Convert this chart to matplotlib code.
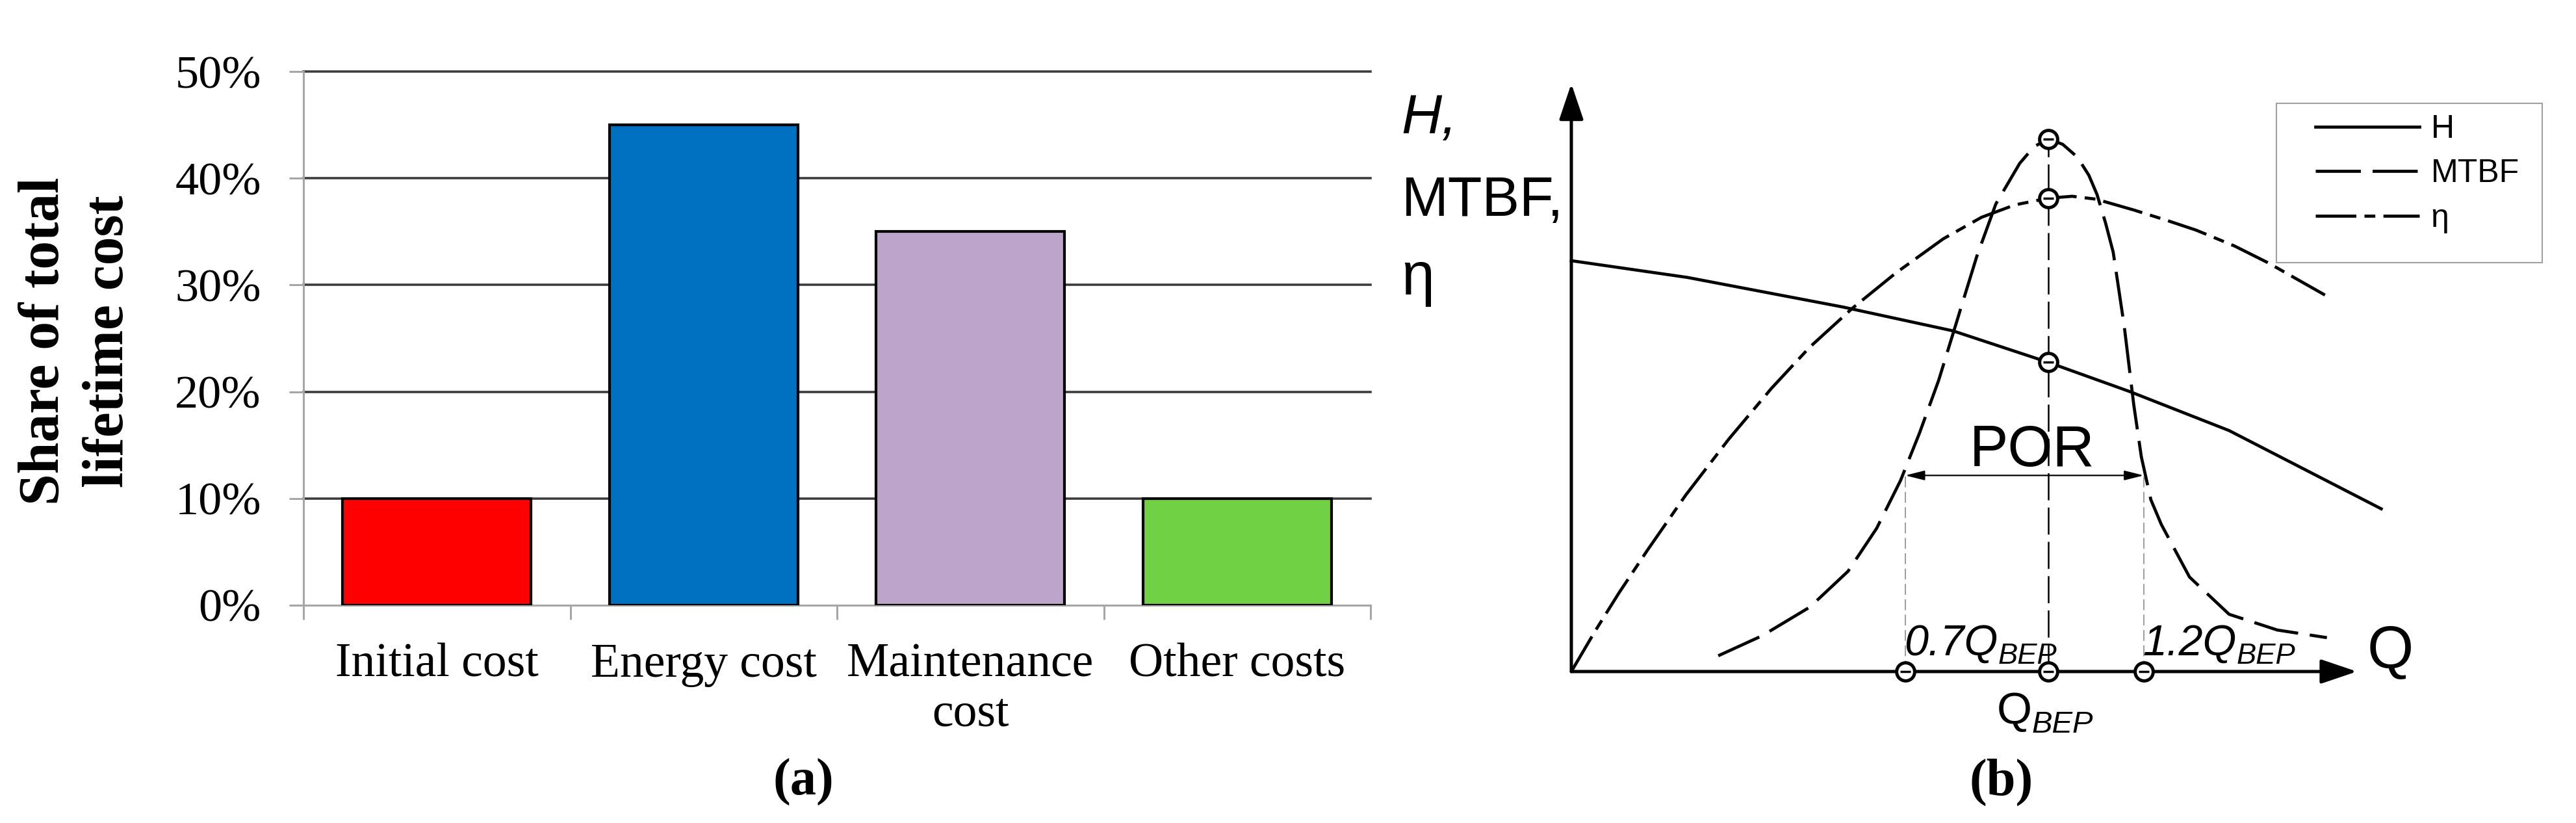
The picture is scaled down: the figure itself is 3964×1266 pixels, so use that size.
import matplotlib
matplotlib.use('Agg')
import matplotlib.pyplot as plt
from matplotlib import font_manager as fm
from matplotlib.patches import Rectangle
import numpy as np

plt.rcParams['lines.scale_dashes'] = False
names = {f.name for f in fm.fontManager.ttflist}
SANS = 'Liberation Sans Narrow' if 'Liberation Sans Narrow' in names else 'Liberation Sans'
SERIF = 'Liberation Serif'

# ---- (a) cost shares
categories = ['Initial cost', 'Energy cost', 'Maintenance\ncost', 'Other costs']
shares = [0.10, 0.45, 0.35, 0.10]
bar_colors = ['#ff0000', '#0070c0', '#bca4ca', '#6fd143']
y_ticks = [0.0, 0.1, 0.2, 0.3, 0.4, 0.5]

# ---- (b) pump curves, Q in units of Q_BEP
h_q = [0.0, 0.243, 0.569, 0.80, 1.0, 1.17, 1.379, 1.698]
h_val = [0.861, 0.826, 0.764, 0.714, 0.648, 0.587, 0.505, 0.341]

mtbf_q = [0.308, 0.40, 0.50, 0.58, 0.64, 0.69, 0.73, 0.77, 0.81, 0.85, 0.89, 0.94, 0.97,
          1.0, 1.03, 1.061, 1.085, 1.102, 1.12, 1.136, 1.159, 1.179, 1.195, 1.215, 1.237,
          1.296, 1.379, 1.48, 1.584]
mtbf_val = [0.033, 0.075, 0.135, 0.21, 0.30, 0.40, 0.50, 0.61, 0.74, 0.87, 0.98, 1.065, 1.10,
            1.116, 1.105, 1.078, 1.04, 1.0, 0.94, 0.879, 0.725, 0.56, 0.45, 0.36, 0.308,
            0.198, 0.120, 0.087, 0.071]

eta_q = [0.0, 0.05, 0.10, 0.16, 0.24, 0.33, 0.42, 0.50, 0.59, 0.68, 0.78, 0.86, 0.93, 1.0,
         1.05, 1.10, 1.18, 1.25, 1.31, 1.39, 1.46, 1.58]
eta_val = [0.0, 0.085, 0.165, 0.255, 0.37, 0.487, 0.594, 0.68, 0.762, 0.835, 0.907, 0.952,
           0.978, 0.992, 0.996, 0.990, 0.967, 0.945, 0.925, 0.892, 0.857, 0.789]

q_marks = [0.7, 1.0, 1.2]
por_level = 0.411
y_axis_top = 1.232
q_axis_end = 1.647

W, H = 3964, 1266
fig = plt.figure(figsize=(W / 100, H / 100), dpi=100)


def px_box(x0, y0, x1, y1):
    return [x0 / W, 1 - y1 / H, (x1 - x0) / W, (y1 - y0) / H]


# ================= panel (a)
ax = fig.add_axes(px_box(467, 110, 2109, 931))
x = np.arange(len(categories))
ax.bar(x, shares, width=0.707, color=bar_colors, edgecolor='black', linewidth=3, zorder=3)
ax.set_xlim(-0.5, len(categories) - 0.5)
ax.set_ylim(0, 0.5)
for v in y_ticks[1:]:
    ax.axhline(v, color='#3c3c3c', lw=2.6, zorder=1, clip_on=False)

for s in ['top', 'right']:
    ax.spines[s].set_visible(False)
for s in ['left', 'bottom']:
    ax.spines[s].set_color('#a6a6a6')
    ax.spines[s].set_linewidth(2.2)

ax.set_yticks(y_ticks)
ax.set_yticklabels([f'{int(round(v * 100))}%' for v in y_ticks], family=SERIF)
ax.tick_params(axis='y', length=16, width=2.2, color='#a6a6a6', pad=31, labelsize=52)
ax.set_xticks(x)
ax.set_xticklabels(categories, family=SERIF, linespacing=1.15)
ax.tick_params(axis='x', which='major', length=0, pad=42, labelsize=53)
ax.set_xticks(np.arange(len(categories) + 1) - 0.5, minor=True)
ax.tick_params(axis='x', which='minor', length=16, width=2.2, color='#a6a6a6')

fig.text(118 / W, 1 - 525 / H, 'Share of total\nlifetime cost', rotation=90,
         ha='center', va='center', multialignment='center', family=SERIF,
         weight='bold', fontsize=63, linespacing=1.3)
fig.text(1236 / W, 1 - 1203 / H, '(a)', ha='center', va='center', family=SERIF,
         weight='bold', fontsize=58)
fig.text(3080 / W, 1 - 1203 / H, '(b)', ha='center', va='center', family=SERIF,
         weight='bold', fontsize=58)

# ================= panel (b)
bx = fig.add_axes([2100 / W, 0, (W - 2100) / W, 1])
scale = 734.0
bx.set_xlim((2100 - 2418) / scale, (W - 2418) / scale)
bx.set_ylim(-(H - 1033) / scale, 1033 / scale)
bx.axis('off')

axis_arrow = dict(arrowstyle='-|>,head_length=3.4,head_width=1.15', mutation_scale=10,
                  lw=3.6, color='black', shrinkA=0, shrinkB=0)
bx.annotate('', xy=(0, y_axis_top), xytext=(0, 0), arrowprops=axis_arrow)
bx.annotate('', xy=(q_axis_end, 0), xytext=(0, 0), arrowprops=axis_arrow)

l_h, = bx.plot(h_q, h_val, color='k', lw=3.4, label='H')
l_m, = bx.plot(mtbf_q, mtbf_val, color='k', lw=3.4, ls=(0, (50, 13)), label='MTBF')
l_e, = bx.plot(eta_q, eta_val, color='k', lw=3.4, ls=(0, (45, 9, 12, 9)), label='η')

bx.plot([1, 1], [0, max(mtbf_val)], color='k', lw=1.8, ls=(0, (30, 8)), zorder=2)
for q in (q_marks[0], q_marks[2]):
    bx.plot([q, q], [0, por_level], color='#8c8c8c', lw=1.2, ls=(0, (12, 5)), zorder=2)

bx.annotate('', xy=(q_marks[0], por_level), xytext=(q_marks[2], por_level),
            arrowprops=dict(arrowstyle='<|-|>,head_length=1.8,head_width=0.45',
                            mutation_scale=10, lw=1.6, color='k', shrinkA=0, shrinkB=0))


def mark(q, v):
    bx.plot(q, v, marker='o', ms=20, mfc='white', mec='k', mew=3.6, ls='none', zorder=6)
    bx.plot(q, v, marker='_', ms=12, mec='k', mew=2.5, ls='none', zorder=7)


for q in q_marks:
    mark(q, 0)
mark(1.0, h_val[h_q.index(1.0)])
mark(1.0, eta_val[eta_q.index(1.0)])
mark(1.0, max(mtbf_val))

fam = [SANS, 'DejaVu Sans']
bx.text(-0.356, 1.128, 'H,', family=fam, style='italic', fontsize=62, va='baseline')
bx.text(-0.356, 0.955, 'MTBF,', family=fam, fontsize=62, va='baseline')
bx.text(-0.356, 0.790, 'η', family=fam, fontsize=66, va='baseline')
bx.text(0.966, 0.43, 'POR', family=fam, fontsize=64, ha='center', va='baseline')
bx.text(1.668, 0.041, 'Q', family=fam, fontsize=66, ha='left', va='center')


def q_label(xq, yb, main, size, italic_main=True):
    t = bx.text(xq, yb, main, family=fam, style='italic' if italic_main else 'normal',
                fontsize=size, va='baseline', ha='left')
    bx.annotate('BEP', xy=(1.0, 0.0), xycoords=t, family=fam, style='italic',
                fontsize=size * 0.68, va='baseline', ha='left')


q_label(0.698, 0.035, '0.7Q', 48)
q_label(1.198, 0.035, '1.2Q', 48)
q_label(0.892, -0.109, 'Q', 50, italic_main=False)

# legend: frame drawn as its own box, entries placed inside it
fig.add_artist(Rectangle((3503 / W, 1 - 404 / H), 409 / W, 245 / H, transform=fig.transFigure,
                         fill=False, edgecolor='#a0a0a0', linewidth=1.5))
bx.legend(handles=[l_h, l_m, l_e], loc='upper left',
          bbox_to_anchor=(3563 / W, 1 - 176 / H), bbox_transform=fig.transFigure,
          borderaxespad=0, borderpad=0, frameon=False, prop=dict(family=fam, size=36),
          handlelength=3.2, handletextpad=0.35, labelspacing=0.45)

fig.savefig('out.png', dpi=100, facecolor='white')
